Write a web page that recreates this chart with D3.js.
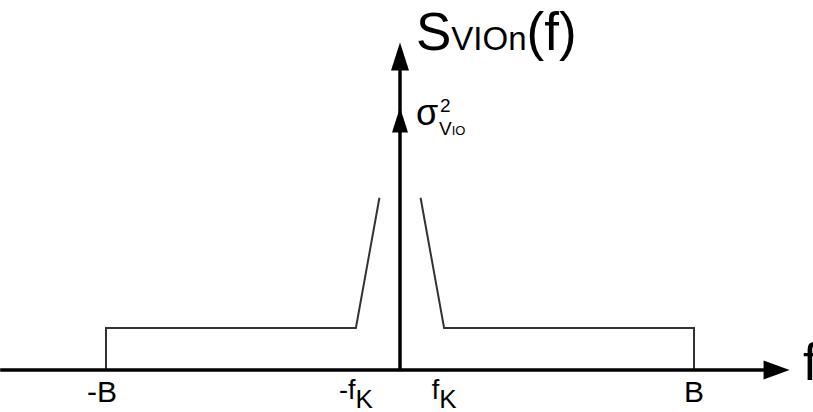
<!DOCTYPE html>
<html>
<head>
<meta charset="utf-8">
<script src="https://cdn.jsdelivr.net/npm/d3@7"></script>
<style>
  html, body { margin: 0; padding: 0; background: #fff; }
  svg { display: block; font-family: "Liberation Sans", Arial, sans-serif; }
</style>
</head>
<body>
<svg id="chart" width="813" height="412"></svg>
<script>
// Two-sided noise power spectrum: white floor out to ±B, 1/f rise below ±fK,
// and a delta at f = 0 carrying the offset variance.
const bandEdge = 10;          // B
const kneeFreq = 1.5;         // fK
const flickerEdgeFreq = 0.7;  // where the drawn 1/f flank stops
const whiteLevel = 1;
const flickerTopLevel = 4.1;
const deltaPower = 6.25;      // sigma^2 of V_IO
const freqAxisExtent = [-13.6, 13.25];
const powerAxisTop = 7.8;

const tickValues = [-bandEdge, -kneeFreq, kneeFreq, bandEdge];
const tickLabels = [
  { main: "-B", sub: "" },
  { main: "-f", sub: "K" },
  { main: "f", sub: "K" },
  { main: "B", sub: "" }
];

const leftBranch = [
  [-bandEdge, 0], [-bandEdge, whiteLevel], [-kneeFreq, whiteLevel], [-flickerEdgeFreq, flickerTopLevel]
];
const rightBranch = [
  [flickerEdgeFreq, flickerTopLevel], [kneeFreq, whiteLevel], [bandEdge, whiteLevel], [bandEdge, 0]
];

const svg = d3.select("#chart");
const x = d3.scaleLinear().domain([-bandEdge, bandEdge]).range([106, 694]);
const y = d3.scaleLinear().domain([0, 8]).range([370, 34]);

const line = d3.line().x(d => x(d[0])).y(d => y(d[1]));

// spectrum
[leftBranch, rightBranch].forEach(pts => {
  svg.append("path")
    .attr("d", line(pts))
    .attr("fill", "none")
    .attr("stroke", "#333")
    .attr("stroke-width", 2);
});

// frequency axis with arrow
const xEnd = x(freqAxisExtent[1]);
svg.append("line")
  .attr("x1", x(freqAxisExtent[0])).attr("x2", xEnd - 20)
  .attr("y1", y(0)).attr("y2", y(0))
  .attr("stroke", "#000").attr("stroke-width", 3.5);
svg.append("path")
  .attr("d", `M${xEnd},${y(0)} L${xEnd - 26},${y(0) - 9.5} L${xEnd - 26},${y(0) + 9.5} Z`)
  .attr("fill", "#000");

// power axis with arrow
const yTop = y(powerAxisTop);
svg.append("line")
  .attr("x1", x(0)).attr("x2", x(0))
  .attr("y1", y(0)).attr("y2", yTop + 22)
  .attr("stroke", "#000").attr("stroke-width", 3.5);
svg.append("path")
  .attr("d", `M${x(0)},${yTop} L${x(0) - 9},${yTop + 28} L${x(0) + 9},${yTop + 28} Z`)
  .attr("fill", "#000");

// delta at f = 0
const yDelta = y(deltaPower);
svg.append("path")
  .attr("d", `M${x(0)},${yDelta} L${x(0) - 8},${yDelta + 25} L${x(0) + 8},${yDelta + 25} Z`)
  .attr("fill", "#000");

// tick labels
const ticks = svg.append("g");
tickValues.forEach((v, i) => {
  const lab = tickLabels[i];
  const isB = lab.sub === "";
  const t = ticks.append("text")
    .attr("x", x(v) + (v === -bandEdge ? -4 : 0))
    .attr("y", isB ? 402 : 399)
    .attr("text-anchor", "middle")
    .attr("font-size", isB ? 30 : 27)
    .attr("fill", "#000");
  t.append("tspan").text(lab.main);
  if (!isB) t.append("tspan").attr("dy", 9).attr("font-size", 26).text(lab.sub);
});

// axis titles
const title = svg.append("text")
  .attr("x", 416).attr("y", 50)
  .attr("fill", "#000");
title.append("tspan").attr("font-size", 53).text("S");
title.append("tspan").attr("font-size", 33).text("VIOn");
title.append("tspan").attr("font-size", 53).text("(f)");

svg.append("text")
  .attr("x", 803).attr("y", 380)
  .attr("font-size", 52)
  .attr("fill", "#000")
  .text("f");

// delta weight label
svg.append("text")
  .attr("x", 416).attr("y", 125)
  .attr("font-size", 36).attr("fill", "#000")
  .text("σ");
svg.append("text")
  .attr("x", 440).attr("y", 112)
  .attr("font-size", 19).attr("fill", "#000")
  .text("2");
const sub = svg.append("text")
  .attr("x", 439).attr("y", 135)
  .attr("fill", "#000");
sub.append("tspan").attr("font-size", 19).text("V");
sub.append("tspan").attr("font-size", 13).text("IO");
</script>
</body>
</html>
